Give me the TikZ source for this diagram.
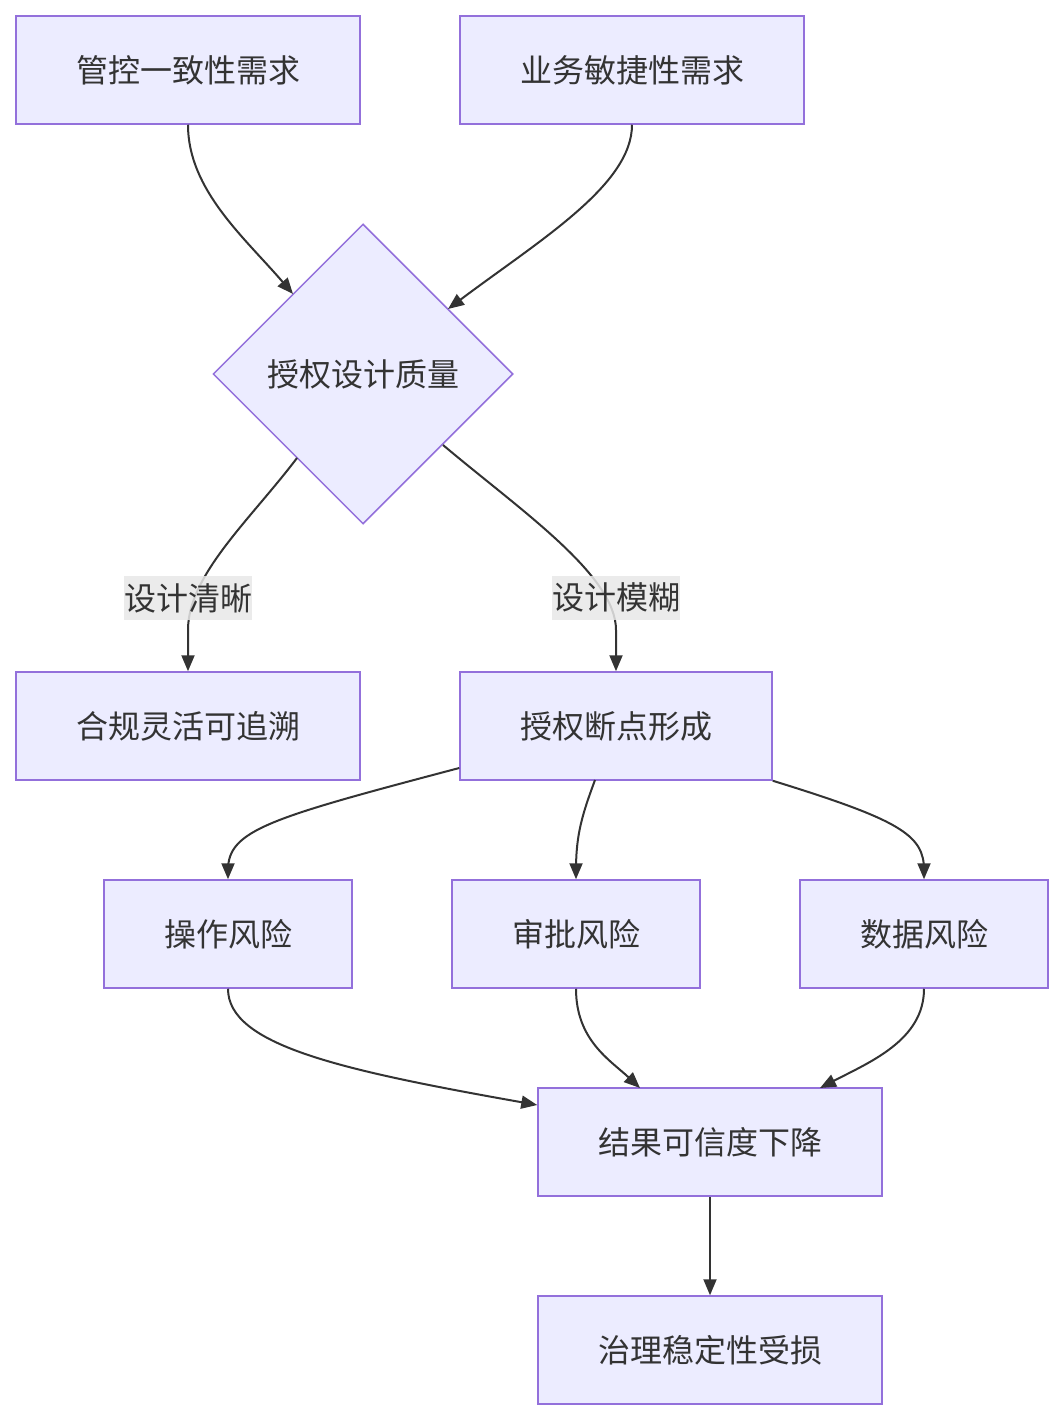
\documentclass[tikz,border=0pt]{standalone}
\usepackage{fontspec}
\setmainfont{Noto Sans CJK SC}
\usetikzlibrary{arrows.meta,shapes.geometric}
\definecolor{nodefill}{HTML}{ECECFF}
\definecolor{nodestroke}{HTML}{9370DB}
\definecolor{txt}{HTML}{333333}
\definecolor{edge}{HTML}{333333}
\definecolor{lblbg}{HTML}{E8E8E8}
\tikzset{
  box/.style={draw=nodestroke,fill=nodefill,line width=1.5pt,minimum width=344pt,minimum height=108pt,inner sep=0pt,text=txt,font=\fontsize{32}{38}\selectfont},
  smallbox/.style={box,minimum width=248pt},
  dia/.style={draw=nodestroke,fill=nodefill,line width=1.5pt,diamond,minimum width=300pt,minimum height=300pt,inner sep=0pt,text=txt,font=\fontsize{32}{38}\selectfont},
  conn/.style={draw=edge,line width=2pt,-{Triangle[length=16pt,width=13pt]}},
  lbl/.style={fill=lblbg,fill opacity=0.85,text opacity=1,text=txt,inner sep=0pt,minimum width=128pt,minimum height=44pt,font=\fontsize{32}{38}\selectfont}
}
\begin{document}
\begin{tikzpicture}[x=1pt,y=-1pt]
\useasboundingbox (0,0) rectangle (1064,1420);
\node[box] (A) at (188,70) {管控一致性需求};
\node[box] (B) at (632,70) {业务敏捷性需求};
\node[dia] (D) at (363,374) {授权设计质量};
\node[box] (C) at (188,726) {合规灵活可追溯};
\node[box,minimum width=312pt] (E) at (616,726) {授权断点形成};
\node[smallbox] (F) at (228,934) {操作风险};
\node[smallbox] (G) at (576,934) {审批风险};
\node[smallbox] (H) at (924,934) {数据风险};
\node[box] (I) at (710,1142) {结果可信度下降};
\node[box] (J) at (710,1350) {治理稳定性受损};
\coordinate (dA) at (293,294);
\coordinate (dB) at (448,309);
\coordinate (dC) at (297,458);
\coordinate (dE) at (443,445);
\draw[conn] (A.south) .. controls (188,190) and (245,238) .. (dA);
\draw[conn] (B.south) .. controls (632,185) and (540,240) .. (dB);
\draw[conn] (dC) .. controls (250,520) and (188,575) .. (188,630) -- (C.north);
\draw[conn] (dE) .. controls (520,510) and (616,575) .. (616,630) -- (E.north);
\draw[conn] (E.south west |- 0,768) .. controls (270,818) and (228,830) .. (228,870) -- (F.north);
\draw[conn] (595,780) .. controls (582,815) and (576,835) .. (576,870) -- (G.north);
\draw[conn] (E.south east) .. controls (900,820) and (924,835) .. (924,870) -- (H.north);
\draw[conn] (F.south) .. controls (228,1045) and (340,1070) .. (I.west |- 0,1105);
\draw[conn] (G.south) .. controls (576,1040) and (610,1060) .. (640,1088);
\draw[conn] (H.south) .. controls (924,1040) and (870,1062) .. (820,1088);
\draw[conn] (I.south) -- (J.north);
\node[lbl] (L1) at (188,598) {设计清晰};
\node[lbl] (L2) at (616,598) {设计模糊};
\end{tikzpicture}
\end{document}
